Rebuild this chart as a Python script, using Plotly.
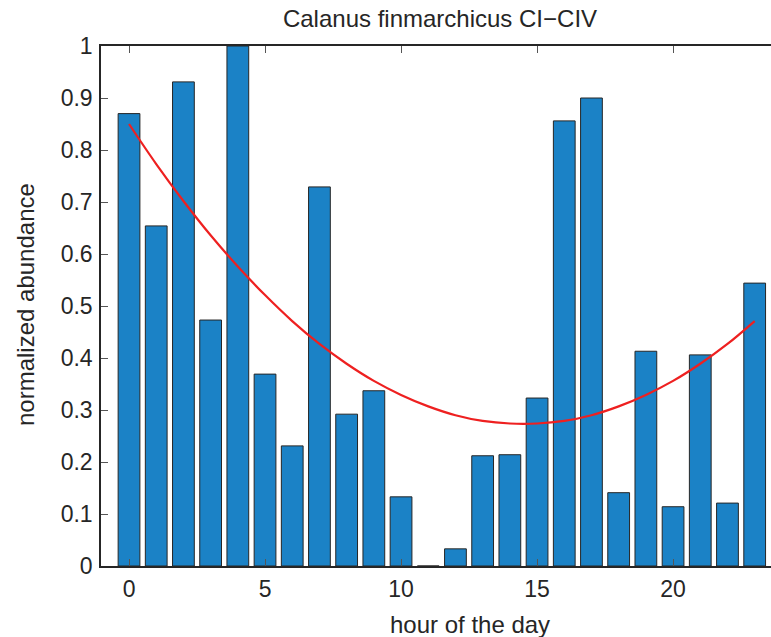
import plotly.graph_objects as go

hours = list(range(24))
abundance = [0.870, 0.654, 0.931, 0.473, 1.000, 0.369, 0.231, 0.729, 0.292, 0.337,
             0.133, 0.0, 0.033, 0.212, 0.214, 0.323, 0.856, 0.900, 0.141, 0.413,
             0.114, 0.406, 0.121, 0.544]
fit_hours = list(range(24))
fit_values = [0.850, 0.773, 0.702, 0.636, 0.576, 0.521, 0.471, 0.427, 0.389, 0.356,
              0.329, 0.307, 0.290, 0.279, 0.274, 0.274, 0.279, 0.290, 0.307, 0.329,
              0.356, 0.389, 0.427, 0.471]
x_ticks = [0, 5, 10, 15, 20]
y_ticks = [0, 0.1, 0.2, 0.3, 0.4, 0.5, 0.6, 0.7, 0.8, 0.9, 1]
y_tick_text = ["0", "0.1", "0.2", "0.3", "0.4", "0.5", "0.6", "0.7", "0.8", "0.9", "1"]

FONT = "Liberation Sans, Arial, Helvetica, sans-serif"
TXT = "#262626"
W, H = 771, 637
L, R, T, B = 101, 0, 46, 71
PW, PH = W - L - R, H - T - B

fig = go.Figure()
fig.add_trace(go.Bar(
    x=hours, y=abundance, width=0.8,
    marker=dict(color="#1b82c6", line=dict(color="#262626", width=1)),
    showlegend=False, hoverinfo="x+y",
))
fig.add_trace(go.Scatter(
    x=fit_hours, y=fit_values, mode="lines",
    line=dict(color="#ee2020", width=2.2, shape="spline"),
    showlegend=False,
))

fig.update_layout(
    width=W, height=H,
    margin=dict(l=L, r=R, t=T, b=B),
    plot_bgcolor="white", paper_bgcolor="white",
    font=dict(family=FONT, color=TXT, size=23),
    title=dict(text="Calanus finmarchicus CI\u2212CIV", x=440/W, xanchor="center",
               xref="container", yref="container", y=1 - 19/H, yanchor="middle",
               font=dict(size=24, family=FONT, color=TXT)),
    bargap=0.2,
    annotations=[
        dict(text="hour of the day", xref="paper", yref="paper",
             x=(470 - L)/PW, y=-(624 - T - PH)/PH, xanchor="center", yanchor="middle",
             showarrow=False, font=dict(size=24, family=FONT, color=TXT)),
        dict(text="normalized abundance", xref="paper", yref="paper",
             x=-(L - 25)/PW, y=(H - B - 305)/PH, xanchor="center", yanchor="middle",
             textangle=-90, showarrow=False, font=dict(size=24, family=FONT, color=TXT)),
    ],
)
fig.update_xaxes(
    range=[-1.03, 23.6], tickvals=x_ticks, ticks="inside", ticklen=7, tickwidth=1,
    tickcolor="#555", showline=True, linecolor="#262626", linewidth=1.5,
    mirror="ticks", showgrid=False, zeroline=False,
    tickfont=dict(size=23), ticklabelstandoff=2,
)
fig.update_yaxes(
    range=[0, 1], tickvals=y_ticks, ticktext=y_tick_text, ticks="inside", ticklen=7,
    tickwidth=1, tickcolor="#555", showline=True, linecolor="#262626", linewidth=1.5,
    mirror=False, showgrid=False, zeroline=False,
    tickfont=dict(size=23), ticklabelstandoff=2,
)

fig.write_html("out.html")
